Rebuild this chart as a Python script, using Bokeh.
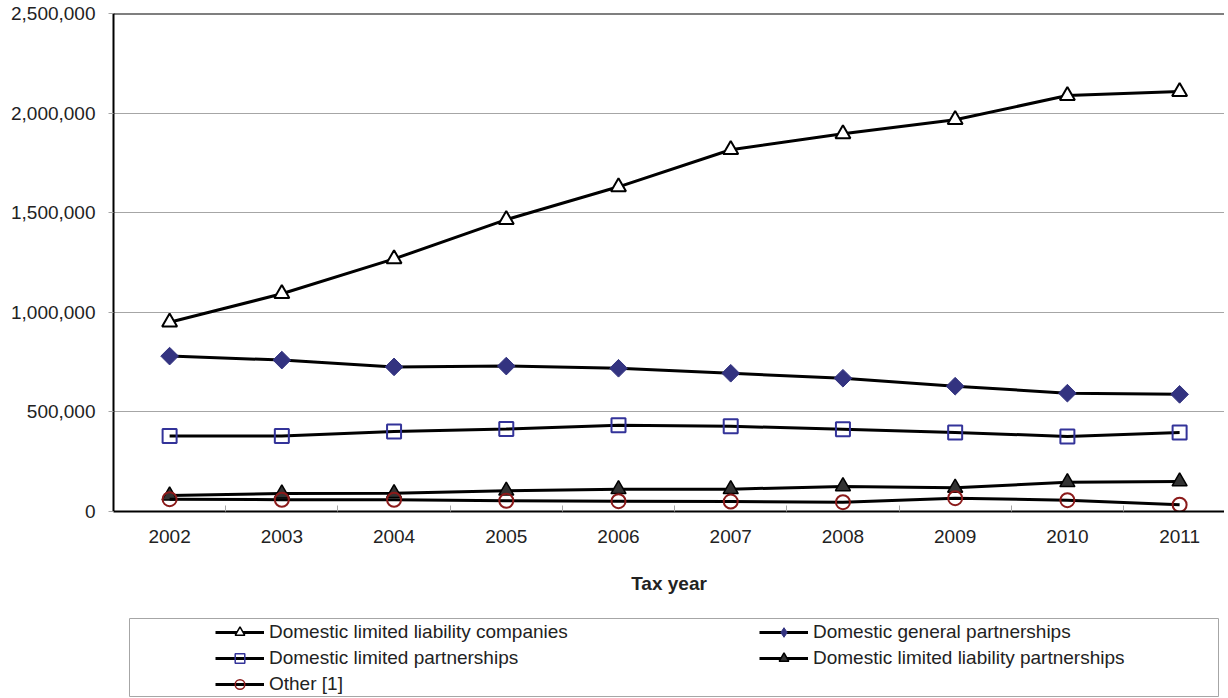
import numpy as np
from bokeh.plotting import figure
from bokeh.models import (Range1d, FixedTicker, NumeralTickFormatter, Span, Legend,
                          LegendItem, ColumnDataSource)
from bokeh.layouts import column
from bokeh.embed import file_html
from bokeh.resources import INLINE

# ---------------- data ----------------
years = [2002, 2003, 2004, 2005, 2006, 2007, 2008, 2009, 2010, 2011]
llc_companies = [950000, 1093000, 1268000, 1465000, 1630000, 1816000, 1896000, 1967000, 2088000, 2108000]
general_partnerships = [780000, 760000, 726000, 730000, 719000, 694000, 669000, 629000, 594000, 588000]
limited_partnerships = [379000, 379000, 402000, 414000, 433000, 428000, 413000, 397000, 377000, 396000]
llp_partnerships = [80000, 90000, 92000, 104000, 112000, 112000, 126000, 119000, 147000, 151000]
other = [62000, 59000, 59000, 54000, 52000, 50000, 47000, 67000, 57000, 34000]
y_ticks = [0, 500000, 1000000, 1500000, 2000000, 2500000]

names = ["Domestic limited liability companies", "Domestic general partnerships",
         "Domestic limited partnerships", "Domestic limited liability partnerships",
         "Other [1]"]

FONT = "Liberation Sans"
TXT = "#222222"
GRID = "#a6a6a6"

styles = [
    dict(marker="triangle", size=15, fill_color="white", line_color="black", line_width=2, angle=0),
    dict(marker="square", size=12.5, fill_color="#333380", line_color="#333380", line_width=1, angle=np.pi / 4),
    dict(marker="square", size=14, fill_color=None, line_color="#333399", line_width=2, angle=0),
    dict(marker="triangle", size=15, fill_color="#333333", line_color="black", line_width=1.5, angle=0),
    dict(marker="circle", size=14, fill_color=None, line_color="#8b1a1a", line_width=2, angle=0),
]
series = [llc_companies, general_partnerships, limited_partnerships, llp_partnerships, other]

# ---------------- main chart ----------------
p = figure(width=1224, height=605,
           x_range=Range1d(2001.5, 2011.40), y_range=Range1d(0, 2500000),
           output_backend="svg", toolbar_location=None, frame_align=False,
           min_border_left=113, min_border_right=0, min_border_top=13, min_border_bottom=94)
p.outline_line_color = None
p.background_fill_color = "white"
p.border_fill_color = "white"

p.xgrid.visible = False
p.ygrid.ticker = FixedTicker(ticks=y_ticks)
p.ygrid.grid_line_color = GRID
p.ygrid.grid_line_width = 1

yax = p.yaxis[0]
yax.ticker = FixedTicker(ticks=y_ticks)
yax.formatter = NumeralTickFormatter(format="0,0")
yax.axis_line_color = "black"
yax.axis_line_width = 2
yax.major_tick_out = 5
yax.major_tick_in = 0
yax.major_tick_line_color = GRID
yax.minor_tick_out = 0
yax.minor_tick_in = 0
yax.major_label_standoff = 13
yax.major_label_text_font = FONT
yax.major_label_text_font_size = "19px"
yax.major_label_text_color = TXT

boundaries = [y - 0.5 for y in years] + [years[-1] + 0.5]
xax = p.xaxis[0]
xax.ticker = FixedTicker(ticks=years, minor_ticks=boundaries)
xax.formatter = NumeralTickFormatter(format="0")
xax.axis_line_color = "black"
xax.axis_line_width = 2
xax.major_tick_in = 0
xax.major_tick_out = 0
xax.minor_tick_in = 6
xax.minor_tick_out = 0
xax.minor_tick_line_color = GRID
xax.major_label_standoff = 18
xax.major_label_text_font = FONT
xax.major_label_text_font_size = "19px"
xax.major_label_text_color = TXT
xax.axis_label = "Tax year"
xax.axis_label_standoff = 27
xax.axis_label_text_font = FONT
xax.axis_label_text_font_size = "19px"
xax.axis_label_text_font_style = "bold"
xax.axis_label_text_color = TXT

p.add_layout(Span(location=y_ticks[-1], dimension="width", line_color="black", line_width=2))

for vals, st in zip(series, styles):
    src = ColumnDataSource(dict(x=years, y=vals))
    p.line("x", "y", source=src, line_color="black", line_width=3)
    p.scatter("x", "y", source=src, **st)

# ---------------- legend panel ----------------
p2 = figure(width=1224, height=92, x_range=Range1d(0, 1), y_range=Range1d(0, 1),
            output_backend="svg", toolbar_location=None, frame_align=False,
            x_axis_type=None, y_axis_type=None,
            min_border_left=129, min_border_right=6, min_border_top=13, min_border_bottom=0)
p2.grid.visible = False
p2.outline_line_color = GRID
p2.outline_line_width = 1
p2.background_fill_color = "white"
p2.border_fill_color = "white"

items = []
for name, st in zip(names, styles):
    # placeholder renderers (no visible data) that only supply the legend glyphs
    dummy = ColumnDataSource(dict(x=[np.nan], y=[np.nan]))
    rl = p2.line("x", "y", source=dummy, line_color="black", line_width=3)
    leg_st = dict(st)
    leg_st["line_width"] = min(st["line_width"], 1.5)
    if st["angle"]:
        leg_st["marker"] = "diamond"
        leg_st["angle"] = 0
    rm = p2.scatter("x", "y", source=dummy, **leg_st)
    items.append(LegendItem(label=name, renderers=[rl, rm]))

common = dict(orientation="vertical", padding=0, margin=0, spacing=2,
              glyph_width=49, glyph_height=24, label_height=24, label_standoff=5,
              label_text_font=FONT, label_text_font_size="19px", label_text_color=TXT,
              border_line_color=None, background_fill_alpha=0)
legA = Legend(items=[items[0], items[2], items[4]], location=(86, 1), **common)
legB = Legend(items=[items[1], items[3]], location=(630, 27), **common)
p2.add_layout(legA)
p2.add_layout(legB)

layout = column(p, p2, spacing=0)
open("out.html", "w").write(file_html(layout, INLINE))
